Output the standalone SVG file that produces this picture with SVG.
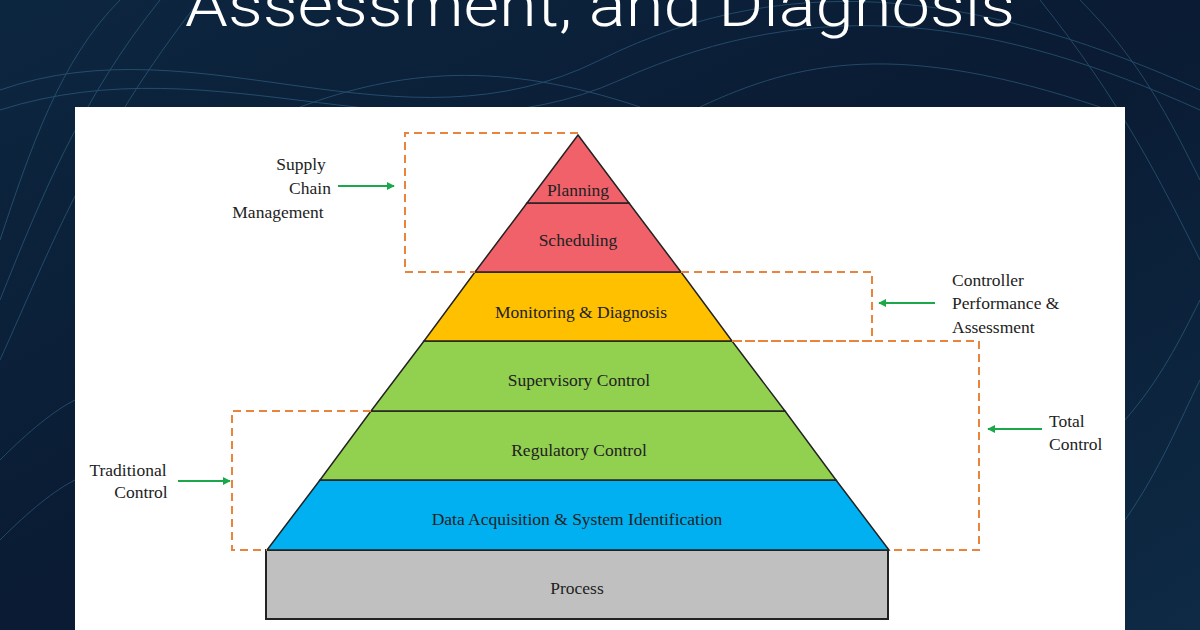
<svg xmlns="http://www.w3.org/2000/svg" width="1200" height="630" viewBox="0 0 1200 630">
<defs>
<linearGradient id="bg" x1="0" y1="0" x2="1" y2="1"><stop offset="0" stop-color="#0d2640"/><stop offset="0.5" stop-color="#0a1b33"/><stop offset="1" stop-color="#0e2a45"/></linearGradient>
<marker id="ga" viewBox="0 0 10 10" refX="9" refY="5" markerWidth="8" markerHeight="8" markerUnits="userSpaceOnUse" orient="auto"><path d="M0,0 L10,5 L0,10 z" fill="#1aa84a"/></marker>
</defs>
<style>
.lbl{font-family:"Liberation Serif",serif;font-size:17.5px;fill:#222}
.lay{stroke:#222;stroke-width:1.5}
.dash{fill:none;stroke:#e8843c;stroke-width:2;stroke-dasharray:8,5}
.arr{stroke:#1aa84a;stroke-width:2;marker-end:url(#ga)}
.wave{fill:none;stroke:#3f7fa6;stroke-width:1;opacity:0.45}
</style>
<rect width="1200" height="630" fill="url(#bg)"/>
<g class="wave">
<path d="M0,90 C200,20 400,160 600,60 S1000,0 1200,90"/>
<path d="M0,110 C220,40 420,170 620,80 S1000,20 1200,110"/>
<path d="M0,240 C30,150 60,60 120,0"/>
<path d="M0,300 C40,200 80,100 160,0"/>
<path d="M0,360 C50,250 90,140 200,0"/>
<path d="M1200,180 C1170,120 1140,60 1080,0"/>
<path d="M1200,260 C1160,180 1120,100 1040,0"/>
<path d="M1125,420 C1160,380 1180,340 1200,300"/>
<path d="M1125,520 C1160,470 1180,420 1200,380"/>
<path d="M0,460 C30,430 55,410 75,400"/>
<path d="M0,540 C30,510 55,490 75,480"/>
<path d="M700,107 C800,60 900,40 1100,107"/>
<path d="M300,107 C400,70 500,60 640,107"/>
</g>
<text x="600" y="26" text-anchor="middle" font-family="Roboto, sans-serif" font-weight="300" font-size="62" fill="#fff" textLength="830" lengthAdjust="spacingAndGlyphs">Assessment, and Diagnosis</text>
<rect x="75" y="107" width="1050" height="523" fill="#fff"/>
<g id="process"><rect x="266" y="550" width="622" height="69" fill="#c0c0c0" stroke="#222" stroke-width="2"/><text class="lbl" x="577" y="594" text-anchor="middle">Process</text></g>
<g id="data"><polygon class="lay" points="320,480 836,480 889,550 267,550" fill="#00b0f0"/><text class="lbl" x="577" y="525" text-anchor="middle">Data Acquisition &amp; System Identification</text></g>
<g id="regulatory"><polygon class="lay" points="371,411 785,411 836,480 320,480" fill="#92d050"/><text class="lbl" x="579" y="456" text-anchor="middle">Regulatory Control</text></g>
<g id="supervisory"><polygon class="lay" points="424,341 732,341 785,411 371,411" fill="#92d050"/><text class="lbl" x="579" y="386" text-anchor="middle">Supervisory Control</text></g>
<g id="monitoring"><polygon class="lay" points="475,272 681,272 732,341 424,341" fill="#ffc000"/><text class="lbl" x="581" y="318" text-anchor="middle">Monitoring &amp; Diagnosis</text></g>
<g id="scheduling"><polygon class="lay" points="527,203 629,203 681,272 475,272" fill="#f0616a"/><text class="lbl" x="578" y="246" text-anchor="middle">Scheduling</text></g>
<g id="planning"><polygon class="lay" points="578,135 629,203 527,203" fill="#f0616a"/><text class="lbl" x="578" y="196" text-anchor="middle">Planning</text></g>
<g id="connectors">
<path class="dash" d="M578,133 H405 V272 H475"/>
<path class="dash" d="M681,272 H872 V341 H732"/>
<path class="dash" d="M732,341 H979 V550 H889"/>
<path class="dash" d="M371,411 H232 V550 H267"/>
<line class="arr" x1="338" y1="186" x2="394" y2="186"/>
<line class="arr" x1="935" y1="303" x2="879" y2="303"/>
<line class="arr" x1="1042" y1="429" x2="988" y2="429"/>
<line class="arr" x1="178" y1="481" x2="230" y2="481"/>
</g>
<g id="lbl-supply"><text class="lbl" x="301" y="170" text-anchor="middle">Supply</text><text class="lbl" x="310" y="194" text-anchor="middle">Chain</text><text class="lbl" x="278" y="218" text-anchor="middle">Management</text></g>
<g id="lbl-controller"><text class="lbl" x="952" y="286">Controller</text><text class="lbl" x="952" y="309">Performance &amp;</text><text class="lbl" x="952" y="333">Assessment</text></g>
<g id="lbl-total"><text class="lbl" x="1049" y="427">Total</text><text class="lbl" x="1049" y="450">Control</text></g>
<g id="lbl-traditional"><text class="lbl" x="128" y="476" text-anchor="middle">Traditional</text><text class="lbl" x="141" y="498" text-anchor="middle">Control</text></g>
</svg>
